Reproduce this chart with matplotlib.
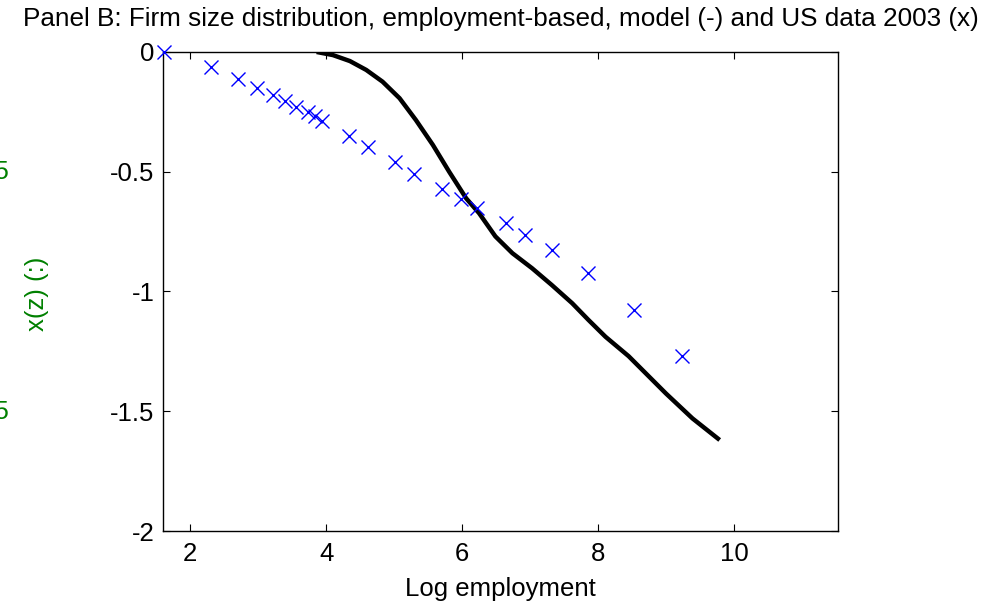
import numpy as np
import matplotlib
matplotlib.use("Agg")
import matplotlib.pyplot as plt

plt.rcParams['font.family'] = ['Liberation Sans', 'DejaVu Sans']

# US data 2003 (x): log employment vs log fraction of firms above size
data_x = [1.61, 2.30, 2.71, 2.99, 3.22, 3.39, 3.56, 3.73, 3.84, 3.94,
          4.33, 4.62, 5.02, 5.30, 5.71, 5.99, 6.22, 6.64, 6.92, 7.32,
          7.85, 8.53, 9.24]
data_y = [0.0, -0.064, -0.113, -0.149, -0.181, -0.206, -0.230, -0.249, -0.267, -0.287,
          -0.351, -0.395, -0.461, -0.508, -0.572, -0.615, -0.650, -0.715, -0.764, -0.826,
          -0.923, -1.077, -1.269]

# model (-)
model_x = [3.86, 4.10, 4.35, 4.59, 4.83, 5.08, 5.32, 5.57, 5.81, 6.06, 6.25,
           6.49, 6.74, 7.03, 7.32, 7.62, 7.86, 8.11, 8.45, 9.00, 9.39, 9.79]
model_y = [0.0, -0.013, -0.038, -0.075, -0.124, -0.193, -0.284, -0.388, -0.50, -0.611, -0.673,
           -0.770, -0.840, -0.903, -0.973, -1.049, -1.119, -1.189, -1.27, -1.426, -1.53, -1.62]

fig = plt.figure(figsize=(9.94, 6.03), dpi=100)
ax = fig.add_axes([0.164, 0.1194, 0.679, 0.7944])

ax.plot(model_x, model_y, color='black', linewidth=3.2, solid_joinstyle='round',
        solid_capstyle='butt', zorder=2)
ax.plot(data_x, data_y, linestyle='none', marker='x', color='blue', markersize=10,
        markeredgewidth=1.0, zorder=3, clip_on=False)

ax.set_xlim(1.6, 11.53)
ax.set_ylim(-2, 0)
ax.set_xticks([2, 4, 6, 8, 10])
ax.set_yticks([-2, -1.5, -1, -0.5, 0])
ax.set_yticklabels(['-2', '-1.5', '-1', '-0.5', '0'])
ax.tick_params(direction='in', length=5, width=0.8, top=True, right=True,
               labelsize=18.5, pad=6)
ax.tick_params(axis='x', pad=8)
for s in ax.spines.values():
    s.set_linewidth(1.0)

ax.set_xlabel('Log employment', fontsize=18.5, labelpad=8)
ax.set_title('Panel B: Firm size distribution, employment-based, model (-) and US data 2003 (x)',
             fontsize=18.8, pad=19)

# cut-off green axis from neighbouring panel
fig.text(0.037, 0.513, 'x(z) (:)', color='green', fontsize=18.5, rotation=90,
         ha='center', va='center')
fig.text(0.009, 1 - 172 / 603, '0.5', color='green', fontsize=18.5, ha='right', va='center')
fig.text(0.009, 1 - 412 / 603, '1.5', color='green', fontsize=18.5, ha='right', va='center')

fig.savefig('out.png', dpi=100)
